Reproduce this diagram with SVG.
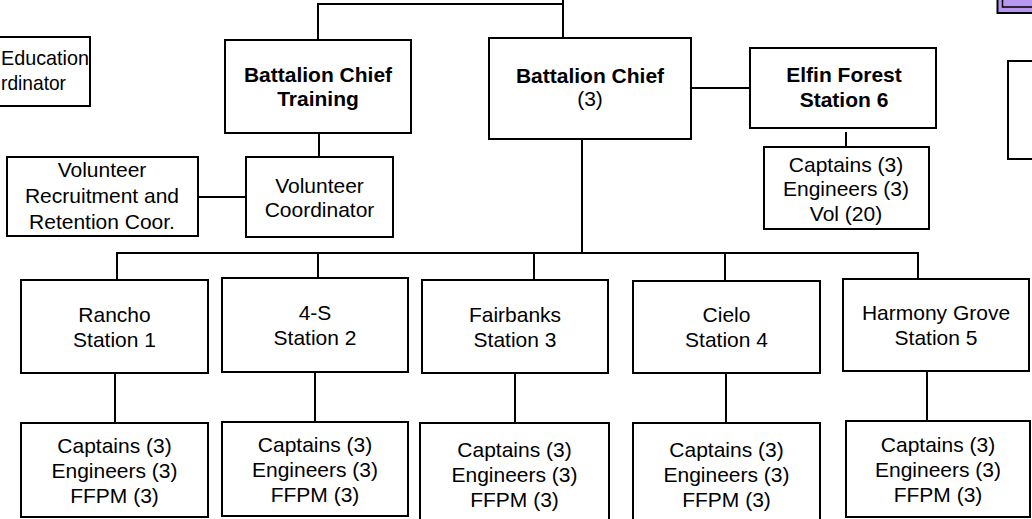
<svg xmlns="http://www.w3.org/2000/svg" width="1032" height="519" viewBox="0 0 1032 519">
<style>
.box{fill:#fff;stroke:#000;stroke-width:2}
.ln{fill:none;stroke:#000;stroke-width:2}
text{font-family:"Liberation Sans",Arial,sans-serif;font-size:21px;fill:#000;text-anchor:middle}
.b{font-weight:bold}
</style>
<rect width="1032" height="519" fill="#fff"/>
<g id="connectors">
<polyline class="ln" points="318,40 318,4 563,4"/>
<line class="ln" x1="563" y1="0" x2="563" y2="38"/>
<line class="ln" x1="319" y1="133" x2="319" y2="157"/>
<line class="ln" x1="198" y1="197" x2="246" y2="197"/>
<line class="ln" x1="691" y1="88" x2="750" y2="88"/>
<line class="ln" x1="846" y1="132" x2="846" y2="147"/>
<line class="ln" x1="582" y1="139" x2="582" y2="253"/>
<line class="ln" x1="116" y1="253" x2="919" y2="253"/>
<line class="ln" x1="117" y1="253" x2="117" y2="280"/>
<line class="ln" x1="318" y1="253" x2="318" y2="278"/>
<line class="ln" x1="534" y1="253" x2="534" y2="280"/>
<line class="ln" x1="725" y1="253" x2="725" y2="281"/>
<line class="ln" x1="918" y1="253" x2="918" y2="279"/>
<line class="ln" x1="115" y1="373" x2="115" y2="423"/>
<line class="ln" x1="315" y1="372" x2="315" y2="422"/>
<line class="ln" x1="515" y1="373" x2="515" y2="423"/>
<line class="ln" x1="726" y1="373" x2="726" y2="423"/>
<line class="ln" x1="927" y1="371" x2="927" y2="421"/>
</g>
<g id="top-right-purple">
<rect x="997.5" y="-20" width="60" height="33" fill="#b896f2" stroke="#000" stroke-width="2"/>
<rect x="1002.5" y="-20" width="60" height="27" fill="#b896f2" stroke="#000" stroke-width="1.5"/>
</g>
<g id="right-partial">
<rect class="box" x="1008" y="61" width="40" height="98"/>
</g>
<g id="education">
<rect class="box" x="-20" y="37" width="110" height="69"/>
<text x="1" y="65" style="text-anchor:start" textLength="88" lengthAdjust="spacingAndGlyphs">Education</text>
<text x="1" y="90" style="text-anchor:start" textLength="65" lengthAdjust="spacingAndGlyphs">rdinator</text>
</g>
<g id="bc-training">
<rect class="box" x="225" y="40" width="186" height="93"/>
<text class="b" x="318" y="82">Battalion Chief</text>
<text class="b" x="318" y="106">Training</text>
</g>
<g id="bc">
<rect class="box" x="489" y="38" width="202" height="101"/>
<text class="b" x="590" y="83">Battalion Chief</text>
<text x="590" y="106">(3)</text>
</g>
<g id="elfin">
<rect class="box" x="750" y="48" width="186" height="80"/>
<text class="b" x="844" y="82">Elfin Forest</text>
<text class="b" x="844" y="107">Station 6</text>
</g>
<g id="elfin-staff">
<rect class="box" x="764" y="147" width="165" height="82"/>
<text x="846" y="172">Captains (3)</text>
<text x="846" y="196">Engineers (3)</text>
<text x="846" y="221">Vol (20)</text>
</g>
<g id="vol-recruit">
<rect class="box" x="7" y="157" width="191" height="79"/>
<text x="102" y="177">Volunteer</text>
<text x="102" y="203">Recruitment and</text>
<text x="102" y="229">Retention Coor.</text>
</g>
<g id="vol-coord">
<rect class="box" x="246" y="157" width="147" height="80"/>
<text x="319.5" y="193">Volunteer</text>
<text x="319.5" y="217">Coordinator</text>
</g>
<g id="st1">
<rect class="box" x="21" y="280" width="187" height="93"/>
<text x="114.5" y="322">Rancho</text>
<text x="114.5" y="347">Station 1</text>
</g>
<g id="st2">
<rect class="box" x="222" y="278" width="186" height="94"/>
<text x="315" y="320">4-S</text>
<text x="315" y="345">Station 2</text>
</g>
<g id="st3">
<rect class="box" x="422" y="280" width="186" height="93"/>
<text x="515" y="322">Fairbanks</text>
<text x="515" y="347">Station 3</text>
</g>
<g id="st4">
<rect class="box" x="633" y="281" width="187" height="92"/>
<text x="726.5" y="322">Cielo</text>
<text x="726.5" y="347">Station 4</text>
</g>
<g id="st5">
<rect class="box" x="843" y="279" width="186" height="92"/>
<text x="936" y="320">Harmony Grove</text>
<text x="936" y="345">Station 5</text>
</g>
<g id="st1-staff">
<rect class="box" x="21" y="423" width="187" height="94"/>
<text x="114.5" y="453">Captains (3)</text>
<text x="114.5" y="478">Engineers (3)</text>
<text x="114.5" y="503">FFPM (3)</text>
</g>
<g id="st2-staff">
<rect class="box" x="222" y="422" width="186" height="94"/>
<text x="315" y="452">Captains (3)</text>
<text x="315" y="477">Engineers (3)</text>
<text x="315" y="502">FFPM (3)</text>
</g>
<g id="st3-staff">
<rect class="box" x="420" y="423" width="189" height="110"/>
<text x="514.5" y="457">Captains (3)</text>
<text x="514.5" y="482">Engineers (3)</text>
<text x="514.5" y="507">FFPM (3)</text>
</g>
<g id="st4-staff">
<rect class="box" x="633" y="423" width="187" height="110"/>
<text x="726.5" y="457">Captains (3)</text>
<text x="726.5" y="482">Engineers (3)</text>
<text x="726.5" y="507">FFPM (3)</text>
</g>
<g id="st5-staff">
<rect class="box" x="846" y="421" width="184" height="96"/>
<text x="938" y="452">Captains (3)</text>
<text x="938" y="477">Engineers (3)</text>
<text x="938" y="502">FFPM (3)</text>
</g>
</svg>
